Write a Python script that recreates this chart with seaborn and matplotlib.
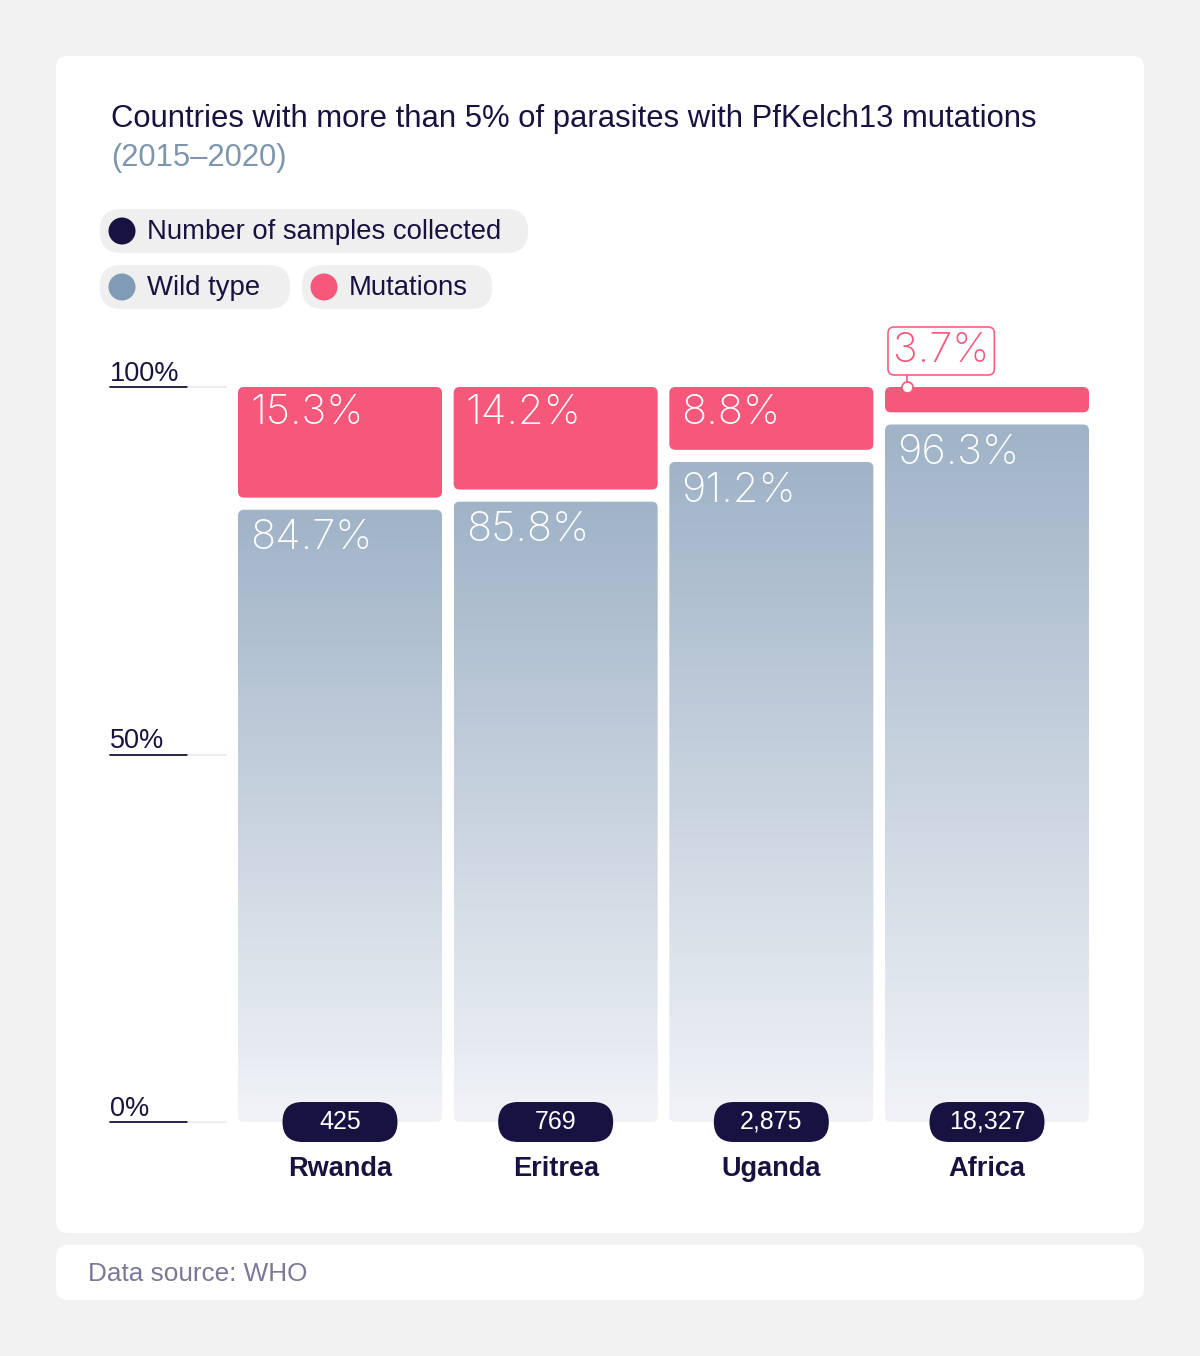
import numpy as np
import pandas as pd
import matplotlib
matplotlib.use("Agg")
import matplotlib.pyplot as plt
from matplotlib.patches import FancyBboxPatch, Circle
from matplotlib.colors import LinearSegmentedColormap
import seaborn as sns

countries = ["Rwanda", "Eritrea", "Uganda", "Africa"]
wild_type = [84.7, 85.8, 91.2, 96.3]
mutations = [15.3, 14.2, 8.8, 3.7]
samples = [425, 769, 2875, 18327]
y_ticks = [0, 50, 100]

NAVY = "#17123f"
PINK = "#f5587a"
WILD = "#7f9bb5"
GREY_PILL = "#efefef"
SANS = ["Liberation Sans", "DejaVu Sans"]
NUM = ["Inter", "DejaVu Sans"]

sns.set_theme(style="white")
plt.rcParams["font.family"] = SANS

fig = plt.figure(figsize=(12, 13.56), dpi=100)
fig.patch.set_facecolor("#f2f2f2")

# full-figure overlay in pixel units for cards, title, legend
bg = fig.add_axes([0, 0, 1, 1], zorder=0)
bg.set_xlim(0, 1200)
bg.set_ylim(1356, 0)
bg.axis("off")


def pill(ax, x0, y0, x1, y1, color, r, **kw):
    p = FancyBboxPatch((x0 + r, y0 + r), x1 - x0 - 2 * r, y1 - y0 - 2 * r,
                       boxstyle=f"round,pad={r}", fc=color, ec="none", **kw)
    ax.add_patch(p)
    return p


pill(bg, 56, 56, 1144, 1233, "white", 12)
pill(bg, 56, 1245, 1144, 1300, "white", 12)

bg.text(111, 119, "Countries with more than 5% of parasites with PfKelch13 mutations",
        fontsize=22.3, color=NAVY, va="center", ha="left")
bg.text(111, 158, "(2015–2020)", fontsize=22.3, color="#7d96ae", va="center", ha="left")

legend_items = [
    (100, 209, 528, 253, NAVY, "Number of samples collected"),
    (100, 265, 290, 309, WILD, "Wild type"),
    (302, 265, 492, 309, PINK, "Mutations"),
]
for x0, y0, x1, y1, col, lab in legend_items:
    pill(bg, x0, y0, x1, y1, GREY_PILL, 21)
    cy = (y0 + y1) / 2
    bg.add_patch(Circle((x0 + 22, cy), 13.5, fc=col, ec="none"))
    bg.text(x0 + 47, cy + 1, lab, fontsize=19.8, color=NAVY, va="center", ha="left")

bg.text(88, 1274, "Data source: WHO", fontsize=18.8, color="#7a7897", va="center", ha="left")

# main chart axes: x centres at 340..987 px, y 0..100 at 1122..387 px
unit_x = (987 - 340) / 3
left_px, right_px = 110, 1100
top_px, bot_px = 387, 1122
ax = fig.add_axes([left_px / 1200, 1 - bot_px / 1356,
                   (right_px - left_px) / 1200, (bot_px - top_px) / 1356], zorder=2)
ax.patch.set_alpha(0)
xlim = ((left_px - 340) / unit_x, (right_px - 340) / unit_x)

df = pd.DataFrame({"country": countries, "wild": wild_type, "mut": mutations, "n": samples})
sns.barplot(data=df, x="country", y="wild", ax=ax, width=0.946, color=WILD, saturation=1)
mut_bars = ax.bar(range(len(df)), df["mut"], bottom=df["wild"], width=0.946, color=PINK)
ax.set_xlim(*xlim)
ax.set_ylim(0, 100)
ax.axis("off")

px_per_y = (bot_px - top_px) / 100
r_x = 6 / unit_x
aspect = (6 / px_per_y) / r_x
gap_low, gap_high = 1.4, 0.25

grad = LinearSegmentedColormap.from_list("wild", ["#f1f3f7", "#a0b3c7"])
gradient = np.linspace(0, 1, 256).reshape(-1, 1)

for bar in list(ax.patches):
    if bar in mut_bars.patches:
        continue
    x, w, h = bar.get_x(), bar.get_width(), bar.get_height()
    bar.set_visible(False)
    top = h - gap_low
    rb = FancyBboxPatch((x, 0), w, top, boxstyle=f"round,pad=0,rounding_size={r_x}",
                        mutation_aspect=aspect, fc="none", ec="none")
    ax.add_patch(rb)
    im = ax.imshow(gradient, cmap=grad, aspect="auto", origin="lower",
                   extent=(x, x + w, 0, top), zorder=1)
    im.set_clip_path(rb)

for bar in mut_bars.patches:
    x, y, w, h = bar.get_x(), bar.get_y(), bar.get_width(), bar.get_height()
    bar.set_visible(False)
    ax.add_patch(FancyBboxPatch((x, y + gap_high), w, h - gap_high,
                                boxstyle=f"round,pad=0,rounding_size={r_x}",
                                mutation_aspect=aspect, fc=PINK, ec="none", zorder=2))

ax.set_xlim(*xlim)
ax.set_ylim(0, 100)

# y ticks: dark underline + light gridline stub
tr = ax.get_yaxis_transform()
span = right_px - left_px
for t in y_ticks:
    ax.plot([0, 78 / span], [t, t], transform=tr, color=NAVY,
            lw=1.3, clip_on=False, zorder=3)
    ax.plot([78 / span, 116 / span], [t, t], transform=tr,
            color="#ebebf0", lw=1.3, clip_on=False, zorder=3)
    ax.text(0, t + 6 / px_per_y, f"{t}%", transform=tr, fontsize=19.5, color=NAVY,
            ha="left", va="baseline", clip_on=False)

off_x = 12 / unit_x
pill_w, pill_h = 115 / unit_x, 40 / px_per_y
for i, row in df.iterrows():
    x0 = i - 0.946 / 2 + off_x
    # wild-type label
    ax.text(x0, row["wild"] - gap_low - 1.3, f"{row['wild']:.1f}%", fontsize=30,
            color="white", ha="left", va="top", fontweight="light", zorder=5,
            family=NUM)
    if row["mut"] > 5:
        ax.text(x0, 100 - 1.0, f"{row['mut']:.1f}%", fontsize=30, color="white",
                ha="left", va="top", fontweight="light", zorder=5, family=NUM)
    else:
        lx = i - 0.946 / 2 + 22 / unit_x
        ax.plot([lx, lx], [100, 100 + 12 / px_per_y], color=PINK, lw=1.2,
                clip_on=False, zorder=5)
        ax.plot(lx, 100, "o", ms=8, mfc="white", mec=PINK, mew=1.2,
                clip_on=False, zorder=6)
        ax.text(x0 - 4 / unit_x, 100 + 36 / px_per_y, f"{row['mut']:.1f}%", fontsize=30,
                color=PINK, ha="left", va="center", fontweight="light", zorder=6,
                clip_on=False, family=NUM,
                bbox=dict(boxstyle="round,pad=0.12,rounding_size=0.15", fc="white",
                          ec=PINK, lw=1.2, alpha=0.95))
    # sample pill
    ax.add_patch(FancyBboxPatch((i - pill_w / 2, -pill_h / 2), pill_w, pill_h,
                                boxstyle=f"round,pad=0,rounding_size={20 / unit_x}",
                                mutation_aspect=(20 / px_per_y) / (20 / unit_x),
                                fc=NAVY, ec="none", zorder=7, clip_on=False))
    ax.text(i, 0, f"{row['n']:,}", fontsize=18, color="white", ha="center",
            va="center", zorder=8, clip_on=False)
    ax.text(i, -47 / px_per_y, row["country"], fontsize=19.5, color=NAVY,
            ha="center", va="center", fontweight="bold", clip_on=False)

fig.savefig("out.png", dpi=100, facecolor=fig.get_facecolor())
